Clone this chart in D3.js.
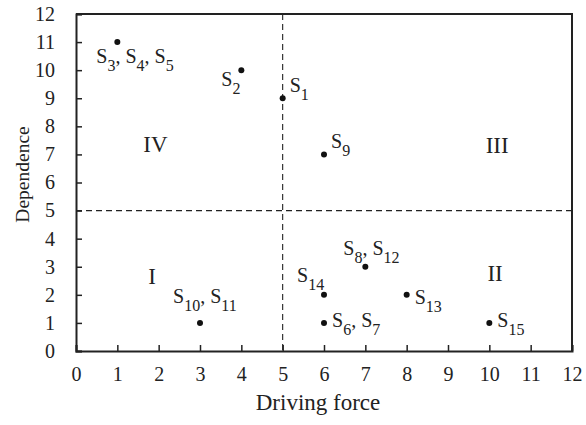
<!DOCTYPE html>
<html>
<head>
<meta charset="utf-8">
<script src="https://cdn.jsdelivr.net/npm/d3@7"></script>
</head>
<body style="margin:0;background:#fff">
<div id="chart"></div>
<script>
// factors: driving force (x), dependence (y), label subscripts
const driving = [1, 4, 5, 6, 7, 6, 3, 6, 8, 10];
const dependence = [11, 10, 9, 7, 3, 2, 1, 1, 2, 1];
const labels = [["3", "4", "5"], ["2"], ["1"], ["9"], ["8", "12"], ["14"], ["10", "11"], ["6", "7"], ["13"], ["15"]];
const placement = ["below", "left", "upRight", "upRight", "above", "upLeft", "high", "right", "downRight", "right"];
const xTicks = d3.range(0, 13);
const yTicks = d3.range(0, 13);
const quadrants = [["IV", 1.92, 7.1], ["III", 10.19, 7.04], ["I", 1.84, 2.37], ["II", 10.14, 2.5]];
const threshold = 5;

const FONT = "Liberation Serif";
const INK = "#222";

const W = 586, H = 425;
const margin = { top: 14, right: 14, bottom: 74, left: 76 };
const width = W - margin.left - margin.right;
const height = H - margin.top - margin.bottom;

const svg = d3.select("#chart").append("svg")
  .attr("width", W).attr("height", H);
const g = svg.append("g").attr("transform", `translate(${margin.left},${margin.top})`);

const x = d3.scaleLinear().domain([0, 12]).range([0, width]);
const y = d3.scaleLinear().domain([0, 12]).range([height, 0]);

// inward ticks
const xAxis = g.append("g").attr("transform", `translate(0,${height})`)
  .call(d3.axisBottom(x).tickValues(xTicks).tickSize(-6).tickPadding(16).tickFormat(d3.format("d")));
const yAxis = g.append("g")
  .call(d3.axisLeft(y).tickValues(yTicks).tickSize(-6).tickPadding(21).tickFormat(d3.format("d")));

[xAxis, yAxis].forEach(a => {
  a.attr("font-family", FONT).attr("font-size", 20);
  a.select(".domain").attr("stroke", INK).attr("stroke-width", 2);
  a.selectAll(".tick line").attr("stroke", INK).attr("stroke-width", 1.5);
  a.selectAll(".tick text").attr("fill", INK)
    .style("font-family", FONT).style("font-size", "20px");
});

// frame top/right
g.append("path")
  .attr("d", `M0,0H${width}V${height}`)
  .attr("fill", "none").attr("stroke", INK).attr("stroke-width", 2);

// threshold lines
g.append("line")
  .attr("x1", x(threshold)).attr("x2", x(threshold)).attr("y1", 0).attr("y2", height)
  .attr("stroke", INK).attr("stroke-width", 1.1).attr("stroke-dasharray", "6,4");
g.append("line")
  .attr("x1", 0).attr("x2", width).attr("y1", y(threshold)).attr("y2", y(threshold))
  .attr("stroke", INK).attr("stroke-width", 1.1).attr("stroke-dasharray", "6,4");

// quadrant names
g.selectAll(".quad").data(quadrants).enter().append("text")
  .attr("x", d => x(d[1])).attr("y", d => y(d[2]))
  .attr("text-anchor", "middle").attr("fill", INK)
  .style("font-family", FONT).style("font-size", "23px")
  .text(d => d[0]);

const pts = driving.map((d, i) => ({ x: d, y: dependence[i], sub: labels[i], pos: placement[i] }));

g.selectAll(".dot").data(pts).enter().append("circle")
  .attr("cx", d => x(d.x)).attr("cy", d => y(d.y)).attr("r", 3)
  .attr("fill", "#111");

// label offset from its point (px)
const offsets = {
  below: [-21, 21],
  left: [-20, 16],
  upRight: [7, -6],
  above: [-22, -12],
  upLeft: [-27, -13],
  high: [-27, -20],
  right: [8, 4.5],
  downRight: [8, 9.5]
};

const lbl = g.selectAll(".lbl").data(pts).enter().append("text")
  .attr("x", d => x(d.x) + offsets[d.pos][0])
  .attr("y", d => y(d.y) + offsets[d.pos][1])
  .attr("fill", INK)
  .style("font-family", FONT).style("font-size", "20px");

lbl.each(function (d) {
  const t = d3.select(this);
  d.sub.forEach((s, i) => {
    if (i > 0) t.append("tspan").attr("dy", -8).text(", S");
    else t.append("tspan").text("S");
    t.append("tspan").attr("dy", 8).style("font-size", "16px").text(s);
  });
});

// axis titles
svg.append("text")
  .attr("x", 318).attr("y", 410)
  .attr("text-anchor", "middle").attr("fill", INK)
  .style("font-family", FONT).style("font-size", "23px")
  .text("Driving force");
svg.append("text")
  .attr("transform", "translate(29,174.5) rotate(-90)")
  .attr("text-anchor", "middle").attr("fill", INK)
  .style("font-family", FONT).style("font-size", "19.5px")
  .text("Dependence");
</script>
</body>
</html>
